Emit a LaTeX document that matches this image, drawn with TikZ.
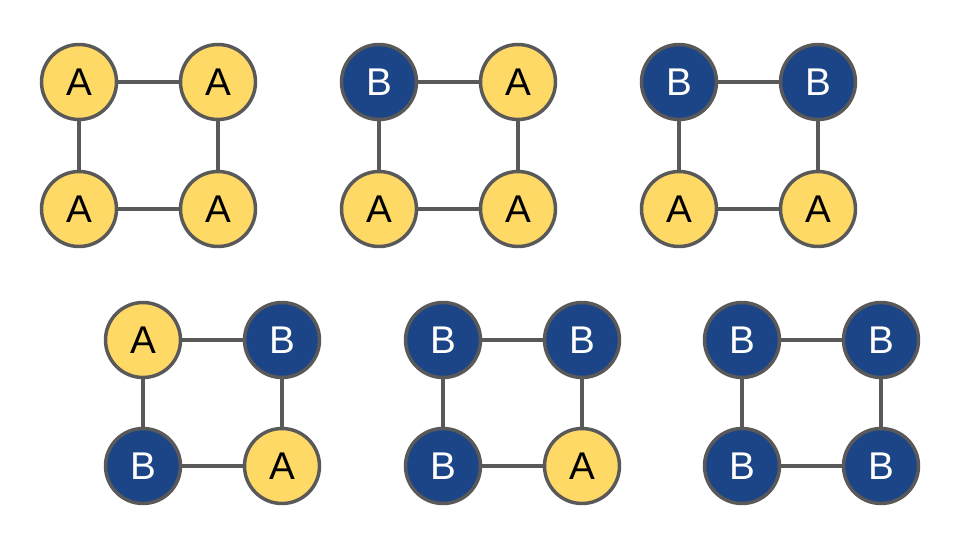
\documentclass[tikz,border=0pt]{standalone}
\usepackage{fontspec}
\setmainfont{Liberation Sans}
\definecolor{ya}{HTML}{FFD966}
\definecolor{bb}{HTML}{1C4587}
\definecolor{gr}{HTML}{595959}
\begin{document}
\begin{tikzpicture}[x=0.75pt,y=-0.75pt,
  nd/.style={circle,draw=gr,line width=2.6pt,minimum size=75*0.75pt,inner sep=0pt,font=\fontsize{29}{29}\selectfont},
  na/.style={nd,fill=ya,text=black},
  nb/.style={nd,fill=bb,text=white},
  ed/.style={draw=gr,line width=2.6pt}]
\useasboundingbox (0,0) rectangle (960,540);
\fill[white] (0,0) rectangle (960,540);
% group 1
\node[na] (a1) at (79,82) {A};
\node[na] (a2) at (218,82) {A};
\node[na] (a3) at (79,209) {A};
\node[na] (a4) at (218,209) {A};
% group 2
\node[nb] (b1) at (379,82) {B};
\node[na] (b2) at (518,82) {A};
\node[na] (b3) at (379,209) {A};
\node[na] (b4) at (518,209) {A};
% group 3
\node[nb] (c1) at (679,82) {B};
\node[nb] (c2) at (818,82) {B};
\node[na] (c3) at (679,209) {A};
\node[na] (c4) at (818,209) {A};
% group 4
\node[na] (d1) at (143,340) {A};
\node[nb] (d2) at (282,340) {B};
\node[nb] (d3) at (143,466) {B};
\node[na] (d4) at (282,466) {A};
% group 5
\node[nb] (e1) at (443,340) {B};
\node[nb] (e2) at (582,340) {B};
\node[nb] (e3) at (443,466) {B};
\node[na] (e4) at (582,466) {A};
% group 6
\node[nb] (f1) at (742,340) {B};
\node[nb] (f2) at (881,340) {B};
\node[nb] (f3) at (742,466) {B};
\node[nb] (f4) at (881,466) {B};
\foreach \g in {a,b,c,d,e,f}{
  \draw[ed] (\g1) -- (\g2);
  \draw[ed] (\g1) -- (\g3);
  \draw[ed] (\g2) -- (\g4);
  \draw[ed] (\g3) -- (\g4);
}
\end{tikzpicture}
\end{document}
